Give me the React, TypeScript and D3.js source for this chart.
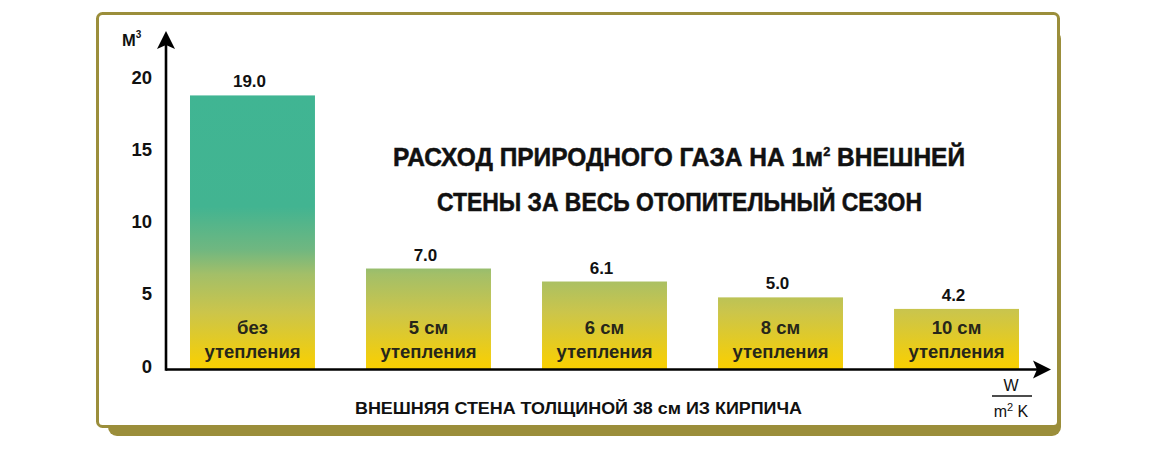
import React from "react";
import * as d3 from "d3";

const categories = ["без", "5 см", "6 см", "8 см", "10 см"];
const subLabel = "утепления";
const values = [19.0, 7.0, 6.1, 5.0, 4.2];
const yTicks = [0, 5, 10, 15, 20];
const titleLines = ["РАСХОД ПРИРОДНОГО ГАЗА НА 1м", " ВНЕШНЕЙ"];
const titleLine2 = "СТЕНЫ ЗА ВЕСЬ ОТОПИТЕЛЬНЫЙ СЕЗОН";
const bottomText = "ВНЕШНЯЯ СТЕНА ТОЛЩИНОЙ 38 см ИЗ КИРПИЧА";

const W = 1170;
const H = 449;
const OLIVE = "#9b8e3b";
const FONT = "'Liberation Sans', Arial, sans-serif";
const NARROW = "'Liberation Sans Narrow', 'Liberation Sans', Arial, sans-serif";

export default function App() {
  const x = d3.scaleBand<string>().domain(categories).range([190, 1019]).paddingInner(0.29).paddingOuter(0);
  const y = d3.scaleLinear().domain([0, 20]).range([369.5, 81]);
  const axisX = 166;
  const base = y(0);

  const gTop = y(19);
  const gBot = y(0);
  const off = (v: number) => (y(v) - gTop) / (gBot - gTop);

  return (
    <svg width={W} height={H} style={{ position: "absolute", left: 0, top: 0, background: "#fff" }}>
      <defs>
        <linearGradient id="barGrad" gradientUnits="userSpaceOnUse" x1={0} x2={0} y1={gTop} y2={gBot}>
          <stop offset={0} stopColor="#40b593" />
          <stop offset={off(11.3)} stopColor="#42b491" />
          <stop offset={off(8.3)} stopColor="#70b780" />
          <stop offset={off(6.6)} stopColor="#a3bf68" />
          <stop offset={off(4.0)} stopColor="#cbc54b" />
          <stop offset={off(0.4)} stopColor="#f6cf06" />
          <stop offset={1} stopColor="#f7cf03" />
        </linearGradient>
      </defs>

      {/* frame with shadow */}
      <rect x={108} y={30} width={953} height={406} rx={9} fill={OLIVE} />
      <rect x={97.5} y={13.5} width={961} height={413} rx={5} fill="#fff" stroke={OLIVE} strokeWidth={3} />

      {/* bars */}
      {values.map((v, i) => (
        <rect
          key={"b" + i}
          x={x(categories[i])}
          y={y(v)}
          width={x.bandwidth()}
          height={base - y(v)}
          fill="url(#barGrad)"
        />
      ))}

      {/* value labels */}
      {values.map((v, i) => (
        <text
          key={"v" + i}
          x={(x(categories[i]) as number) + x.bandwidth() / 2 - 3}
          y={y(v) - 8}
          textAnchor="middle"
          fontFamily={FONT}
          fontWeight="bold"
          fontSize={17}
          fill="#111"
        >
          {v.toFixed(1)}
        </text>
      ))}

      {/* inner labels */}
      {categories.map((c, i) => (
        <g key={"c" + i} fontFamily={FONT} fontWeight="bold" fontSize={18.5} fill="#26261a" textAnchor="middle">
          <text x={(x(c) as number) + x.bandwidth() / 2} y={base - 36}>{c}</text>
          <text x={(x(c) as number) + x.bandwidth() / 2} y={base - 12}>{subLabel}</text>
        </g>
      ))}

      {/* axes */}
      <line x1={axisX} y1={base} x2={1040} y2={base} stroke="#000" strokeWidth={2.6} />
      <line x1={axisX} y1={base + 1.3} x2={axisX} y2={40} stroke="#000" strokeWidth={2.6} />
      <path d={`M${axisX},31 L${axisX + 9},49 L${axisX},45 L${axisX - 9},49 Z`} fill="#000" />
      <path d={`M1051,${base} L1033,${base - 9} L1037,${base} L1033,${base + 9} Z`} fill="#000" />

      {/* y tick labels */}
      {yTicks.map((t) => (
        <text
          key={"t" + t}
          x={152}
          y={y(t) + 3}
          textAnchor="end"
          fontFamily={FONT}
          fontWeight="bold"
          fontSize={18.5}
          fill="#111"
        >
          {t}
        </text>
      ))}

      {/* y unit */}
      <text x={122} y={46} fontFamily={FONT} fontWeight="bold" fontSize={16.5} fill="#111">
        М<tspan fontSize={10} dy={-8}>3</tspan>
      </text>

      {/* x unit */}
      <g fontFamily={FONT} fontSize={16} fill="#111" textAnchor="middle">
        <text x={1011} y={391}>W</text>
        <line x1={992} x2={1032} y1={396} y2={396} stroke="#111" strokeWidth={1.5} />
        <text x={1011} y={417}>
          m<tspan fontSize={11} dy={-6}>2</tspan>
          <tspan dy={6}> K</tspan>
        </text>
      </g>

      {/* title */}
      <text
        x={393}
        y={166}
        fontFamily={NARROW}
        fontWeight="bold"
        fontSize={25}
        fill="#111"
        stroke="#111"
        strokeWidth={0.5}
        textLength={572}
        lengthAdjust="spacingAndGlyphs"
      >
        {titleLines[0]}
        <tspan fontSize={13} dy={-10}>2</tspan>
        <tspan dy={10}>{titleLines[1]}</tspan>
      </text>
      <text
        x={437}
        y={211}
        fontFamily={NARROW}
        fontWeight="bold"
        fontSize={25}
        fill="#111"
        stroke="#111"
        strokeWidth={0.5}
        textLength={485}
        lengthAdjust="spacingAndGlyphs"
      >
        {titleLine2}
      </text>

      {/* bottom text */}
      <text
        x={355}
        y={414}
        fontFamily={NARROW}
        fontWeight="bold"
        fontSize={16}
        fill="#111"
        textLength={447}
        lengthAdjust="spacingAndGlyphs"
      >
        {bottomText}
      </text>
    </svg>
  );
}
